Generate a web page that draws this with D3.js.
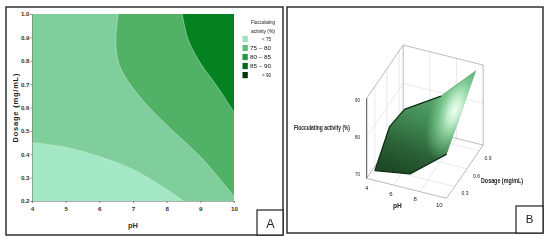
<!DOCTYPE html>
<html><head><meta charset="utf-8">
<script src="https://cdnjs.cloudflare.com/ajax/libs/d3/7.8.5/d3.min.js"></script>
<style>html,body{margin:0;padding:0;background:#fff}svg{display:block;font-family:"Liberation Sans",Arial,sans-serif;filter:blur(0.35px)}</style>
</head><body><svg id="c" width="550" height="242"></svg>
<script>
// Panel A: contour boundaries as [pH, dosage]
const phTicks=[4,5,6,7,8,9,10];
const doseTicks=[0.2,0.3,0.4,0.5,0.6,0.7,0.8,0.9,1.0];
const boundary75=[[4,0.45],[5,0.43],[6,0.39],[7,0.335],[8,0.25],[8.5,0.2]];
const boundary80=[[6.56,1.0],[6.49,0.876],[6.61,0.775],[7.2,0.646],[8.0,0.525],[9.0,0.39],[9.6,0.29],[10,0.22]];
const boundary85=[[8.46,1.0],[8.64,0.89],[9.0,0.79],[9.5,0.69],[10,0.58]];
const legendLabels=["<  75","75 –  80","80 –  85","85 –  90",">  90"];
const legendColors=["#9fe3bd","#63bb7e","#219a40","#006a16","#003a0c"];
const regionColors=["#a4e7c4","#7fce9b","#51b166","#05821f"];
// Panel B: surface outline as [pH, dosage, activity]
const surfaceOutline=[[4.62,0.1,71.3],[7.25,0.1,72.75],[10,0.1,80.7],[10,0.824,91.8],[7.38,0.82,82.5],[4.64,0.82,76.4],[4.35,0.55,75.8]];
const bPh=[4,6,8,10], bDose=[0.3,0.6,0.9], bZ=[70,80,90];

const svg=d3.select("#c");
const defs=svg.append("defs");
const frame=(x,y,w,h,sw)=>svg.append("rect").attr("x",x).attr("y",y).attr("width",w).attr("height",h).attr("fill","#fff").attr("stroke","#222").attr("stroke-width",sw);
frame(6,7,277,228,1.4);
frame(287,7,256,226,1.4);

// ---------- Panel A
const x=d3.scaleLinear().domain([4,10]).range([32,234]);
const y=d3.scaleLinear().domain([0.2,1.0]).range([201,14]);
const gA=svg.append("g");
const curve=d3.line().x(d=>x(d[0])).y(d=>y(d[1])).curve(d3.curveCatmullRom.alpha(0.5));
const rectPath=`M${x(4)},${y(1)}H${x(10)}V${y(.2)}H${x(4)}Z`;
gA.append("path").attr("d",rectPath).attr("fill",regionColors[1]);
const edge=(pts,tail)=>curve(pts)+tail.map(p=>`L${x(p[0])},${y(p[1])}`).join("")+"Z";
gA.append("path").attr("d",edge(boundary75,[[4,0.2]])).attr("fill",regionColors[0]);
gA.append("path").attr("d",edge(boundary80,[[10,1.0]])).attr("fill",regionColors[2]);
gA.append("path").attr("d",edge(boundary85,[[10,1.0]])).attr("fill",regionColors[3]);
[boundary75,boundary80,boundary85].forEach(b=>gA.append("path").attr("d",curve(b)).attr("fill","none").attr("stroke","#c9efd7").attr("stroke-width",.7).attr("opacity",.7));

const axX=gA.append("g").attr("transform",`translate(0,${y(.2)})`).call(d3.axisBottom(x).tickValues(phTicks).tickFormat(d3.format("d")).tickSize(2).tickPadding(4));
const axY=gA.append("g").attr("transform",`translate(${x(4)},0)`).call(d3.axisLeft(y).tickValues(doseTicks).tickFormat(d3.format(".1f")).tickSize(1.5).tickPadding(1));
[axX,axY].forEach(a=>{a.select(".domain").attr("stroke","#777").attr("stroke-width",.6);a.selectAll("line").attr("stroke","#555").attr("stroke-width",.6);
 a.selectAll("text").attr("font-size",6.2).attr("font-weight","bold").attr("fill","#333");});
gA.append("text").attr("x",133).attr("y",227.5).attr("text-anchor","middle").attr("font-size",7.5).attr("font-weight","bold").attr("fill","#333").text("pH");
gA.append("text").attr("transform","translate(18,108) rotate(-90)").attr("text-anchor","middle").attr("font-size",7.5).attr("font-weight","bold").attr("fill","#222").attr("textLength",69).text("Dosage (mg/mL)");

const leg=svg.append("g");
["Flocculating","activity (%)"].forEach((t,i)=>leg.append("text").attr("x",263).attr("y",24+i*8.6).attr("text-anchor","middle").attr("font-size",6.2).attr("fill","#111").attr("textLength",24).attr("lengthAdjust","spacingAndGlyphs").text(t));
const legY=d3.scalePoint().domain(legendLabels).range([38.8,75]);
legendLabels.forEach((l,i)=>{
 leg.append("rect").attr("x",242.5).attr("y",legY(l)-3).attr("width",5.3).attr("height",6.2).attr("fill",legendColors[i]);
 leg.append("text").attr("x",271).attr("y",legY(l)+2.2).attr("text-anchor","end").attr("font-size",6.2).attr("fill","#111").attr("textLength",i==0||i==4?9:21).attr("lengthAdjust","spacingAndGlyphs").text(l);
});
frame(257,210,26,25,1.2);
svg.append("text").attr("x",270.5).attr("y",228).attr("text-anchor","middle").attr("font-size",12.5).attr("fill","#222").text("A");

// ---------- Panel B (oblique projection through linear scales)
const uS=d3.scaleLinear().domain([4,10]).range([0,1]);
const vS=d3.scaleLinear().domain([0.1,1.0]).range([0,1]);
const wS=d3.scaleLinear().domain([68.6,90.5]).range([0,1]);
const ox=285+245/3, oy=535/3;
const P=(ph,d,z)=>{const u=uS(ph),v=vS(d),w=wS(z);return [ox+u*80+v*36.5, oy+u*20-v*53.3-w*80];};
const gB=svg.append("g");
const seg=(a,b,c,sw)=>gB.append("line").attr("x1",a[0]).attr("y1",a[1]).attr("x2",b[0]).attr("y2",b[1]).attr("stroke",c).attr("stroke-width",sw);
const grid="#d6dcea", box="#8d8d92";
const [pA,pB]=uS.domain(),[dA,dB]=vS.domain(),[zA,zB]=wS.domain();
bPh.slice(1,3).forEach(p=>{seg(P(p,dA,zA),P(p,dB,zA),grid,.6);seg(P(p,dB,zA),P(p,dB,zB),grid,.6);});
bDose.forEach(d=>{seg(P(pA,d,zA),P(pB,d,zA),grid,.6);seg(P(pA,d,zA),P(pA,d,zB),grid,.6);});
bZ.slice(1,2).forEach(z=>{seg(P(pA,dA,z),P(pA,dB,z),grid,.6);seg(P(pA,dB,z),P(pB,dB,z),grid,.6);});
[[[pA,dA,zA],[pB,dA,zA]],[[pB,dA,zA],[pB,dB,zA]],[[pA,dA,zA],[pA,dB,zA]],[[pA,dB,zA],[pB,dB,zA]],
 [[pA,dA,zA],[pA,dA,zB]],[[pA,dA,zB],[pA,dB,zB]],[[pA,dB,zB],[pB,dB,zB]],[[pA,dB,zA],[pA,dB,zB]],[[pB,dB,zA],[pB,dB,zB]]]
 .forEach(([a,b])=>seg(P(...a),P(...b),box,.6));
seg(P(pA,dA,zA),P(pA,dA,zB),"#444",.8);

const pts=surfaceOutline.map(d=>P(...d));
const line=d3.line();
const lg=defs.append("linearGradient").attr("id","sg").attr("gradientUnits","userSpaceOnUse")
 .attr("x1",pts[1][0]-5).attr("y1",pts[1][1]).attr("x2",pts[4][0]-5).attr("y2",pts[4][1]);
[[0,"#1d4a26"],[.3,"#2c6238"],[.65,"#418a55"],[1,"#57a56c"]].forEach(s=>lg.append("stop").attr("offset",s[0]).attr("stop-color",s[1]));
const hx=285+510/3, hy=330/3;
const rg=defs.append("radialGradient").attr("id","hl").attr("gradientUnits","userSpaceOnUse").attr("cx",hx).attr("cy",hy).attr("r",18)
 .attr("gradientTransform",`translate(${hx} ${hy}) rotate(-70) scale(3 1.35) translate(${-hx} ${-hy})`);
[[0,"#f0fff3",1],[.25,"#ccf5d6",.92],[.6,"#8fdca2",.6],[1,"#7fd094",0]].forEach(s=>rg.append("stop").attr("offset",s[0]).attr("stop-color",s[1]).attr("stop-opacity",s[2]));
gB.append("path").attr("d",line(pts)+"Z").attr("fill","url(#sg)");
gB.append("path").attr("d",line(pts)+"Z").attr("fill","url(#hl)");
const dark=[pts[2],pts[1],pts[0],pts[6],pts[5],pts[4]];
gB.append("path").attr("d",line(dark)).attr("fill","none").attr("stroke","#0c2a12").attr("stroke-width",1.2).attr("stroke-linejoin","round");
seg(pts[4],pts[3],"#4f9c63",.7);

const small={"font-size":5.6,fill:"#222"};
const txt=(px,py,t,o={})=>{const e=gB.append("text").attr("x",px).attr("y",py).text(t);Object.entries({...small,...o}).forEach(([k,v])=>e.attr(k,v));return e;};
const zLabelY=d3.scaleLinear().domain([70,90]).range([176,102]);
bZ.forEach(z=>txt(357.5,zLabelY(z),z,{"text-anchor":"middle","textLength":5,"lengthAdjust":"spacingAndGlyphs"}));
const phLabelX=d3.scaleLinear().domain([4,10]).range([366.7,439.3]);
const phLabelY=d3.scaleLinear().domain([4,10]).range([190,207]);
bPh.forEach(p=>txt(phLabelX(p),phLabelY(p),p,{"text-anchor":"middle","font-size":6}));
const doseLabelX=d3.scaleLinear().domain([0.3,0.9]).range([465,488]);
const doseLabelY=d3.scaleLinear().domain([0.3,0.9]).range([195,160]);
bDose.forEach(d=>txt(doseLabelX(d),doseLabelY(d),d3.format(".1f")(d),{"text-anchor":"middle","textLength":7,"lengthAdjust":"spacingAndGlyphs"}));
txt(294,130,"Flocculating activity (%)",{"font-size":6.6,"font-weight":"bold","textLength":56,"lengthAdjust":"spacingAndGlyphs"});
txt(481,183,"Dosage (mg/mL)",{"font-size":6.6,"font-weight":"bold","textLength":42,"lengthAdjust":"spacingAndGlyphs"});
txt(397.5,208,"pH",{"font-size":6.6,"font-weight":"bold","text-anchor":"middle"});
frame(516,206,27,27,1.2);
svg.append("text").attr("x",529.5).attr("y",223).attr("text-anchor","middle").attr("font-size",11.5).attr("fill","#222").text("B");
</script></body></html>
